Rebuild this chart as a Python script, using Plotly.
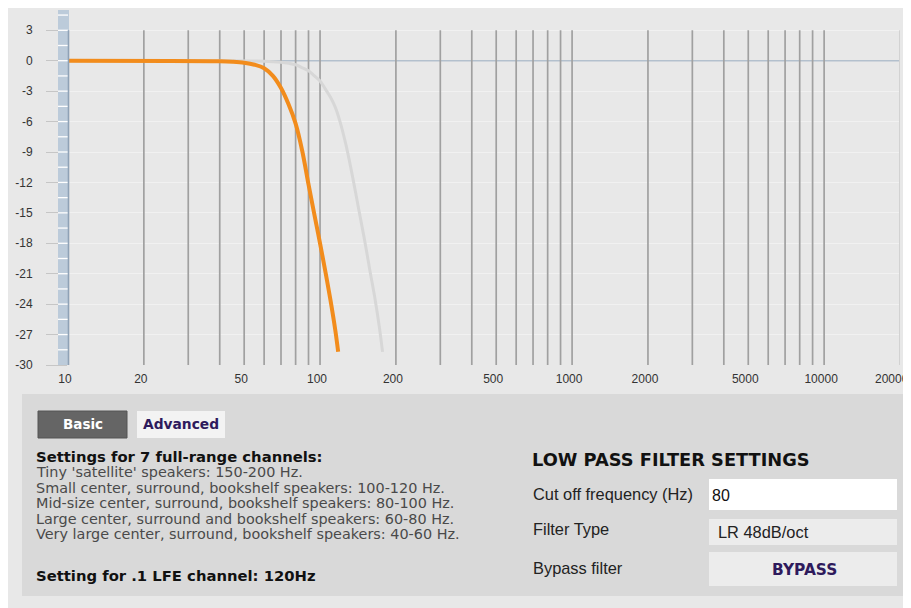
import plotly.graph_objects as go

# ---------------- data ----------------
orange_freq = [10, 40, 45, 50, 55, 60, 65, 70, 75, 80, 85, 90, 95, 100, 105, 110, 115, 118]
orange_db = [0, -0.05, -0.1, -0.2, -0.4, -0.75, -1.5, -2.7, -4.3, -6.2, -8.9, -12.2, -15.2,
             -18.0, -20.8, -23.6, -26.6, -28.7]

gray_freq = [10, 40, 60, 70, 75, 80, 85, 90, 95, 100, 105, 110, 115, 120, 127, 135, 142, 150,
             158, 165, 172, 177]
gray_db = [0, 0, -0.05, -0.15, -0.25, -0.4, -0.7, -1.0, -1.5, -2.0, -2.8, -3.6, -4.6, -6.0,
           -8.4, -11.6, -14.5, -17.6, -20.8, -23.4, -26.3, -28.7]

grid_freqs = [20, 30, 40, 50, 60, 70, 80, 90, 100, 200, 300, 400, 500, 600, 700, 800, 900,
              1000, 2000, 3000, 4000, 5000, 6000, 7000, 8000, 9000, 10000]
x_tick_vals = [10, 20, 50, 100, 200, 500, 1000, 2000, 5000, 10000]
x_tick_text = ["10", "20", "50", "100", "200", "500", "1000", "2000", "5000", "10000"]
x_last_label = "20000"
y_tick_vals = [-30, -27, -24, -21, -18, -15, -12, -9, -6, -3, 0, 3]
y_tick_text = ["-30", "-27", "-24", "-21", "-18", "-15", "-12", "-9", "-6", "-3", "0", "3"]
strip_marks = [-28.5, -27, -25.5, -24, -22.5, -21, -19.5, -18, -16.5, -15, -13.5, -12, -10.5,
               -9, -7.5, -6, -4.5, -3, -1.5, 0, 1.5, 3, 4.5]

settings_title = "Settings for 7 full-range channels:"
settings_lines = [
    "Tiny 'satellite' speakers: 150-200 Hz.",
    "Small center, surround, bookshelf speakers: 100-120 Hz.",
    "Mid-size center, surround, bookshelf speakers: 80-100 Hz.",
    "Large center, surround and bookshelf speakers: 60-80 Hz.",
    "Very large center, surround, bookshelf speakers: 40-60 Hz.",
]
lfe_text = "Setting for .1 LFE channel: 120Hz"

# ---------------- layout helpers (page pixel coords -> paper) ----------------
OFF = 8                      # page body margin
W, H = 911 - OFF, 608 - OFF  # figure size
PL, PR, PT, PB = 68, 900, 10, 365   # plot area in page pixels
ML, MR, MT, MB = PL - OFF, W - (PR - OFF), PT - OFF, H - (PB - OFF)
PW = W - ML - MR
PH = H - MT - MB


def px(x):
    return (x - OFF - ML) / PW


def py(y):
    return (H - MB - (y - OFF)) / PH


VERD = "DejaVu Sans"
ARIAL = "Liberation Sans, Arial"
PURPLE = "#2e1a5c"

fig = go.Figure()

# vertical grid lines
gx, gy = [], []
for f in grid_freqs:
    gx += [f, f, None]
    gy += [-30, 3, None]
fig.add_trace(go.Scatter(x=[10, 20000], y=[0, 0], mode="lines",
                         line=dict(color="#b3c0cd", width=1.6), hoverinfo="skip"))
fig.add_trace(go.Scatter(x=gx, y=gy, mode="lines",
                         line=dict(color="#a0a0a0", width=1.7), hoverinfo="skip"))
fig.add_trace(go.Scatter(x=[20000, 20000], y=[-30, 3], mode="lines",
                         line=dict(color="#d2d2d2", width=2), hoverinfo="skip"))

# curves
fig.add_trace(go.Scatter(x=gray_freq, y=gray_db, mode="lines",
                         line=dict(color="#d7d7d7", width=3, shape="spline"),
                         name="previous"))
fig.add_trace(go.Scatter(x=orange_freq, y=orange_db, mode="lines",
                         line=dict(color="#f28c1c", width=4, shape="spline"),
                         name="LR 48dB/oct 80 Hz"))

shapes = []


def rect(x0, y0, x1, y1, fill, layer="below", line=None):
    shapes.append(dict(type="rect", xref="paper", yref="paper",
                       x0=px(x0), x1=px(x1), y0=py(y1), y1=py(y0),
                       fillcolor=fill, line=line or dict(width=0), layer=layer))


# backgrounds
rect(22, 394, 911, 596, "#d9d9d9")
# buttons / boxes
rect(38, 411, 127, 438, "#656565", line=dict(color="#555555", width=1))
rect(137, 411, 225, 438, "#f3f3f3")
rect(709, 479, 897, 510, "#ffffff")
rect(709, 519, 897, 545, "#ececec")
rect(709, 552, 897, 586, "#ececec")

# left blue strip
rect(58, 10, 69, 365, "#bccbda", layer="above")
for m in strip_marks:
    shapes.append(dict(type="line", xref="paper", yref="y", x0=px(58), x1=px(68),
                       y0=m, y1=m, line=dict(color="#ffffff", width=1.3), layer="above"))
shapes.append(dict(type="line", xref="paper", yref="y", x0=px(68.5), x1=px(68.5),
                   y0=-30, y1=3, line=dict(color="#8fa2b6", width=1.6), layer="above"))

annotations = []


def text(x, y, s, size, color, family, bold=False, anchor="left"):
    annotations.append(dict(xref="paper", yref="paper", x=px(x), y=py(y),
                            xanchor=anchor, yanchor="middle", showarrow=False,
                            borderpad=0,
                            text=("<b>%s</b>" % s) if bold else s,
                            font=dict(size=size, color=color, family=family)))


# last x tick label kept inside the page
text(910, 379, x_last_label, 12, "#333333", ARIAL, anchor="right")

LS = 14.4
text(82.5, 424, "Basic", 13.5, "#ffffff", VERD, bold=True, anchor="center")
text(181, 424, "Advanced", 13.8, PURPLE, VERD, bold=True, anchor="center")
text(35, 456, settings_title, 14.8, "#111111", VERD, bold=True)
for i, s in enumerate(settings_lines):
    text(35, 472 + i * 15.6, s, LS, "#4a4a4a", VERD)
text(35, 575, lfe_text, 14.8, "#111111", VERD, bold=True)

text(531, 459, "LOW PASS FILTER SETTINGS", 17.8, "#111111", VERD, bold=True)
text(532, 494, "Cut off frequency (Hz)", 16.4, "#222222", ARIAL)
text(532, 529, "Filter Type", 16.4, "#222222", ARIAL)
text(532, 568, "Bypass filter", 16.4, "#222222", ARIAL)
text(711, 495, "80", 16, "#111111", ARIAL)
text(717, 532, "LR 48dB/oct", 16.4, "#222222", ARIAL)
text(804, 570, "BYPASS", 15.4, PURPLE, VERD, bold=True, anchor="center")

fig.update_layout(
    width=W, height=H,
    margin=dict(l=ML, r=MR, t=MT, b=MB, pad=0, autoexpand=False),
    paper_bgcolor="#e8e8e8",
    plot_bgcolor="rgba(0,0,0,0)",
    showlegend=False,
    shapes=shapes,
    annotations=annotations,
    xaxis=dict(type="log", range=[1, 4.30103], tickvals=x_tick_vals, ticktext=x_tick_text,
               showgrid=False, zeroline=False, showline=False, ticks="",
               ticklabelstandoff=5, ticklabelshift=-3, automargin=False,
               tickfont=dict(family=ARIAL, size=12, color="#333333"), fixedrange=True),
    yaxis=dict(range=[-30, 5], tickvals=y_tick_vals, ticktext=y_tick_text,
               showgrid=True, gridcolor="#f1f1f1", gridwidth=1, zeroline=False,
               showline=False, ticks="outside", ticklen=21, tickcolor="#c6c6c6",
               tickwidth=1, ticklabelstandoff=11, automargin=False,
               tickfont=dict(family=ARIAL, size=12, color="#333333"), fixedrange=True),
)

fig.write_html("out.html")
